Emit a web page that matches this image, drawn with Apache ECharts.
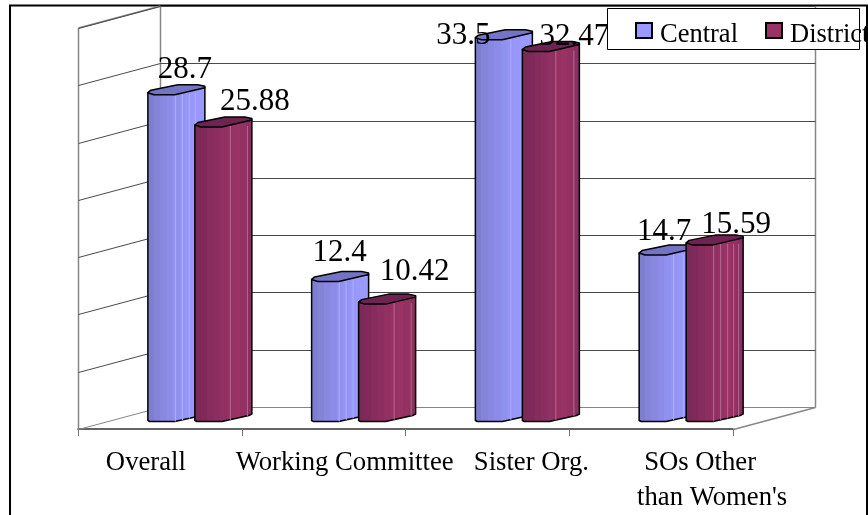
<!DOCTYPE html>
<html>
<head>
<meta charset="utf-8">
<script src="https://cdn.jsdelivr.net/npm/echarts@6/dist/echarts.min.js"></script>
<style>
html, body { margin: 0; padding: 0; background: #fff; overflow: hidden; }
#chart { width: 868px; height: 515px; }
</style>
</head>
<body>
<div id="chart"></div>
<script>
var categories = ['Overall', 'Working Committee', 'Sister Org.', "SOs Other\nthan Women's"];
var central = [28.7, 12.4, 33.5, 14.7];
var district = [25.88, 10.42, 32.47, 15.59];
var yTicks = [0, 5, 10, 15, 20, 25, 30, 35];

// layout only, picture was not centred on the categories
var FONT = '"Liberation Serif", "Times New Roman", serif';
var DEPTH_X = 82, DEPTH_Y = 22;
var BAR_W = 57, BAR_LIFT = 7.5;
var catLabelShift = [[-14], [21], [44], [49, 61]];
var centralLabelShift = [[25, -30], [16, -34], [-24, -9], [13, -28.5]];
var districtLabelShift = [[95, -31], [91, -37.5], [87, -20], [85, -25.5]];
var centralStripes = [[27, 34, 41, 47], [27, 34, 41], [35], [34, 44]];
var districtStripes = [[35, 52], [35, 52], [33, 51], [27, 34, 41, 47, 52]];

var chart = echarts.init(document.getElementById('chart'), null, { renderer: 'canvas' });

function pairs(values) {
    return values.map(function (v, i) { return [i, v]; });
}

function barGradient(colors) {
    var stops = [];
    colors.forEach(function (c, i) {
        stops.push({ offset: i / colors.length, color: c });
        stops.push({ offset: (i + 1) / colors.length, color: c });
    });
    return new echarts.graphic.LinearGradient(0, 0, 1, 0, stops);
}

function barSeries(name, values, opt) {
    return {
        name: name,
        type: 'custom',
        z: 5,
        coordinateSystem: 'cartesian2d',
        encode: { x: 0, y: 1 },
        itemStyle: { color: opt.color, borderColor: '#000', borderWidth: 1 },
        data: pairs(values),
        renderItem: function (params, api) {
            var i = api.value(0);
            var base = api.coord([i, 0]);
            var top = api.coord([i, api.value(1)]);
            var x = base[0] + opt.shift;
            var yb = base[1] - BAR_LIFT;
            var yt = top[1] - BAR_LIFT;
            var line = { stroke: '#000', lineWidth: 1.5, lineJoin: 'round' };
            var children = [{
                type: 'polygon',
                shape: { points: [
                    [x, yt], [x, yb - 1], [x + 2, yb], [x + 27, yb],
                    [x + BAR_W - 3, yb - 6], [x + BAR_W, yb - 7.5], [x + BAR_W, yt - 5]
                ] },
                style: Object.assign({ fill: barGradient(opt.bands) }, line)
            }];
            opt.stripes[i].forEach(function (dx) {
                children.push({
                    type: 'line',
                    shape: { x1: x + dx + 0.5, y1: yt + 1, x2: x + dx + 0.5, y2: yb - (dx > 27 ? (dx - 27) * 0.22 : 0) },
                    style: { stroke: opt.stripe, lineWidth: 1 }
                });
            });
            children.push({
                type: 'polygon',
                shape: { points: [
                    [x, yt], [x + 6, yt + 2], [x + 27, yt + 2], [x + BAR_W, yt - 5],
                    [x + BAR_W, yt - 6.5], [x + BAR_W - 7, yt - 8], [x + 30, yt - 8], [x + 3, yt - 2.5]
                ] },
                style: Object.assign({ fill: opt.topColor }, line)
            });
            return { type: 'group', children: children };
        }
    };
}

function valueLabels(values, shifts) {
    return {
        type: 'custom',
        z: 7,
        silent: true,
        encode: { x: 0, y: 1 },
        data: pairs(values),
        renderItem: function (params, api) {
            var i = api.value(0);
            var base = api.coord([i, 0]);
            var top = api.coord([i, api.value(1)]);
            return {
                type: 'text',
                style: {
                    text: String(api.value(1)),
                    x: base[0] + shifts[i][0],
                    y: top[1] + shifts[i][1],
                    fill: '#000',
                    font: '31px ' + FONT,
                    align: 'center',
                    verticalAlign: 'middle'
                }
            };
        }
    };
}

var option = {
    animation: false,
    backgroundColor: '#fff',
    grid: { left: 78, right: 135, top: 28, bottom: 86 },
    legend: {
        data: ['Central', 'District'],
        left: 628,
        top: 16,
        width: 320,
        padding: [6, 0, 6, 7],
        z: 60,
        icon: 'rect',
        itemWidth: 16,
        itemHeight: 15,
        itemGap: 27,
        formatter: '{t|{name}}',
        textStyle: {
            padding: [0, 0, 0, 3],
            rich: { t: { fontFamily: FONT, fontSize: 26.5, color: '#000', padding: [10, 0, 0, 0] } }
        }
    },
    xAxis: {
        type: 'category',
        data: categories,
        axisLine: { show: true, lineStyle: { color: '#333', width: 1.5 } },
        axisTick: { show: true, length: 7, lineStyle: { color: '#777', width: 1 } },
        axisLabel: { show: false },
        splitLine: { show: false }
    },
    yAxis: {
        type: 'value',
        min: 0,
        max: 35,
        interval: 5,
        axisLine: { show: false },
        axisTick: { show: false },
        axisLabel: { show: false },
        splitLine: { show: false }
    },
    graphic: [
        // page frame and legend box
        { type: 'rect', z: 1, shape: { x: 10, y: 5.5, width: 857, height: 520 }, style: { fill: 'none', stroke: '#000', lineWidth: 2 } },
        { type: 'rect', z: 50, shape: { x: 607.5, y: 8.5, width: 252, height: 41 }, style: { fill: '#fff', stroke: '#000', lineWidth: 1 } }
    ],
    series: [
        {
            // walls and floor, gridlines from the y scale
            type: 'custom',
            z: 2,
            silent: true,
            encode: { y: 0 },
            data: yTicks.map(function (v) { return [v]; }),
            renderItem: function (params, api) {
                var v = api.value(0);
                var g = params.coordSys;
                var y = Math.round(api.coord([0, v])[1]) + 0.5;
                var x0 = g.x + 0.5, x1 = g.x + g.width + 0.5;
                var grey = { stroke: '#868686', lineWidth: 1.5 };
                var dark = { stroke: v === 0 ? '#868686' : '#4a4a4a', lineWidth: 1, fill: 'none' };
                var children = [{
                    type: 'polyline',
                    shape: { points: [[x0, y], [x0 + DEPTH_X, y - DEPTH_Y], [x1 + DEPTH_X, y - DEPTH_Y]] },
                    style: dark
                }];
                if (v === 0) {
                    children.push({ type: 'line', shape: { x1: x0, y1: g.y, x2: x0, y2: y }, style: grey });
                    children.push({ type: 'line', shape: { x1: x0, y1: g.y, x2: x0 + DEPTH_X, y2: g.y - DEPTH_Y }, style: grey });
                    children.push({ type: 'line', shape: { x1: x0 + DEPTH_X, y1: g.y - DEPTH_Y, x2: x0 + DEPTH_X, y2: y - DEPTH_Y }, style: grey });
                    children.push({ type: 'line', shape: { x1: x1 + DEPTH_X, y1: g.y - DEPTH_Y, x2: x1 + DEPTH_X, y2: y - DEPTH_Y }, style: grey });
                    children.push({ type: 'line', shape: { x1: x1, y1: y, x2: x1 + DEPTH_X, y2: y - DEPTH_Y }, style: grey });
                }
                return { type: 'group', children: children };
            }
        },
        barSeries('Central', central, {
            color: '#9999ff',
            topColor: '#7474c6',
            stripe: '#aeaeff',
            bands: ['#7e7ed0', '#8383d8', '#8888e0', '#8c8ce8', '#9090ee', '#9494f4', '#9797fa', '#9999ff', '#9999ff'],
            shift: -12,
            stripes: centralStripes
        }),
        barSeries('District', district, {
            color: '#993366',
            topColor: '#6e2450',
            stripe: '#b56a90',
            bands: ['#7a2a56', '#80295a', '#872d5e', '#8c2f60', '#913062', '#963164', '#993366', '#933163', '#8c2f60'],
            shift: 35,
            stripes: districtStripes
        }),
        valueLabels(central, centralLabelShift),
        valueLabels(district, districtLabelShift),
        {
            // category names, drawn here because they sit off centre
            type: 'custom',
            z: 6,
            silent: true,
            encode: { x: 0 },
            data: categories.map(function (c, i) { return [i]; }),
            renderItem: function (params, api) {
                var i = api.value(0);
                var p = api.coord([i, 0]);
                var lines = categories[i].split('\n');
                return {
                    type: 'group',
                    children: lines.map(function (t, n) {
                        return {
                            type: 'text',
                            style: {
                                text: t,
                                x: p[0] + catLabelShift[i][n],
                                y: p[1] + 34 + n * 35,
                                fill: '#000',
                                font: '26.7px ' + FONT,
                                align: 'center',
                                verticalAlign: 'middle'
                            }
                        };
                    })
                };
            }
        }
    ]
};
chart.setOption(option);
</script>
</body>
</html>
